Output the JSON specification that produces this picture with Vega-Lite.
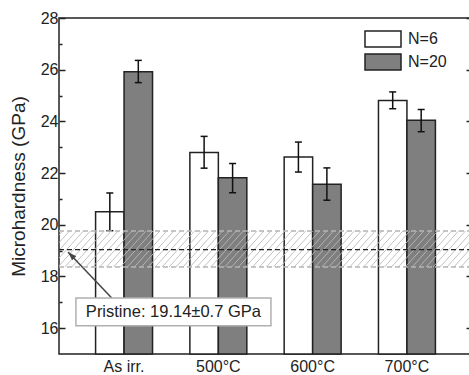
{
  "$schema": "https://vega.github.io/schema/vega-lite/v6.json",
  "width": 413,
  "height": 336,
  "autosize": {"type": "none"},
  "padding": {"left": 59, "top": 18, "right": 0, "bottom": 21},
  "config": {"font": "Liberation Sans", "view": {"stroke": "#222", "strokeWidth": 1.5}},
  "datasets": {
    "bars": [
      {"cond": "As irr.", "N": "N=6", "value": 20.5, "lo": 19.77, "hi": 21.23},
      {"cond": "As irr.", "N": "N=20", "value": 25.92, "lo": 25.5, "hi": 26.36},
      {"cond": "500°C", "N": "N=6", "value": 22.8, "lo": 22.19, "hi": 23.42},
      {"cond": "500°C", "N": "N=20", "value": 21.82, "lo": 21.24, "hi": 22.37},
      {"cond": "600°C", "N": "N=6", "value": 22.62, "lo": 22.04, "hi": 23.2},
      {"cond": "600°C", "N": "N=20", "value": 21.57, "lo": 20.95, "hi": 22.2},
      {"cond": "700°C", "N": "N=6", "value": 24.81, "lo": 24.49, "hi": 25.14},
      {"cond": "700°C", "N": "N=20", "value": 24.04, "lo": 23.6, "hi": 24.46}
    ],
    "pristine": [{"lo": 18.37, "mid": 19.04, "hi": 19.76, "label": "Pristine: 19.14±0.7 GPa"}]
  },
  "layer": [
    {
      "layer": [
        {
          "data": {"name": "bars"},
          "mark": {"type": "bar", "stroke": "#222", "strokeWidth": 1.5},
          "encoding": {
            "x": {"field": "cond", "type": "nominal", "sort": null, "scale": {"paddingInner": 0.396, "paddingOuter": 0.388},
              "axis": {"title": null, "labelAngle": 0, "labelFontSize": 16, "labelColor": "#222", "ticks": false, "domain": false, "labelPadding": 4}},
            "xOffset": {"field": "N", "type": "nominal", "sort": ["N=6", "N=20"], "scale": {"paddingInner": 0, "paddingOuter": 0}},
            "y": {"field": "value", "type": "quantitative", "scale": {"domain": [15, 28], "nice": false, "zero": false},
              "axis": {"orient": "left", "values": [16, 18, 20, 22, 24, 26, 28],
                "tickSize": -6, "tickColor": "#222", "tickWidth": 1.5, "domain": false, "grid": false,
                "labelFontSize": 16, "labelColor": "#222", "labelPadding": 7,
                "title": "Microhardness (GPa)", "titleFontSize": 19, "titleFontWeight": "normal", "titleColor": "#222", "titlePadding": 12}},
            "y2": {"datum": 15},
            "fill": {"field": "N", "type": "nominal", "sort": ["N=6", "N=20"],
              "scale": {"domain": ["N=6", "N=20"], "range": ["#ffffff", "#7f7f7f"]},
              "legend": {"orient": "none", "legendX": 314, "legendY": 11, "title": null,
                "symbolType": "M-2,-0.88H2V0.88H-2Z", "symbolSize": 324, "symbolStrokeColor": "#222", "symbolStrokeWidth": 1.5,
                "labelFontSize": 16, "labelColor": "#222", "labelOffset": 15, "rowPadding": 1, "padding": 0, "symbolOpacity": 1}}
          }
        },
        {
          "data": {"name": "bars"},
          "mark": {"type": "rule", "color": "#111", "strokeWidth": 1.5},
          "encoding": {
            "x": {"field": "cond", "type": "nominal", "sort": null},
            "xOffset": {"field": "N", "type": "nominal", "sort": ["N=6", "N=20"]},
            "y": {"field": "lo", "type": "quantitative"},
            "y2": {"field": "hi"}
          }
        },
        {
          "data": {"name": "bars"},
          "mark": {"type": "tick", "color": "#111", "thickness": 1.5, "size": 7, "opacity": 1},
          "encoding": {
            "x": {"field": "cond", "type": "nominal", "sort": null},
            "xOffset": {"field": "N", "type": "nominal", "sort": ["N=6", "N=20"]},
            "y": {"field": "lo", "type": "quantitative"}
          }
        },
        {
          "data": {"name": "bars"},
          "mark": {"type": "tick", "color": "#111", "thickness": 1.5, "size": 7, "opacity": 1},
          "encoding": {
            "x": {"field": "cond", "type": "nominal", "sort": null},
            "xOffset": {"field": "N", "type": "nominal", "sort": ["N=6", "N=20"]},
            "y": {"field": "hi", "type": "quantitative"}
          }
        },
        {
          "data": {"name": "pristine"},
          "mark": {"type": "rect", "fill": {"gradient": "linear", "x1": 0, "y1": 0, "x2": 1.0717, "y2": 0.0839, "stops": [
            {"offset": 0.0058, "color": "#b9b9b900"}, {"offset": 0.008, "color": "#b9b9b9e6"}, {"offset": 0.0102, "color": "#b9b9b900"},
            {"offset": 0.0214, "color": "#b9b9b900"}, {"offset": 0.0236, "color": "#b9b9b9e6"}, {"offset": 0.0258, "color": "#b9b9b900"},
            {"offset": 0.037, "color": "#b9b9b900"}, {"offset": 0.0392, "color": "#b9b9b9e6"}, {"offset": 0.0414, "color": "#b9b9b900"},
            {"offset": 0.0526, "color": "#b9b9b900"}, {"offset": 0.0548, "color": "#b9b9b9e6"}, {"offset": 0.057, "color": "#b9b9b900"},
            {"offset": 0.0682, "color": "#b9b9b900"}, {"offset": 0.0704, "color": "#b9b9b9e6"}, {"offset": 0.0726, "color": "#b9b9b900"},
            {"offset": 0.0838, "color": "#b9b9b900"}, {"offset": 0.086, "color": "#b9b9b9e6"}, {"offset": 0.0882, "color": "#b9b9b900"},
            {"offset": 0.0994, "color": "#b9b9b900"}, {"offset": 0.1016, "color": "#b9b9b9e6"}, {"offset": 0.1038, "color": "#b9b9b900"},
            {"offset": 0.115, "color": "#b9b9b900"}, {"offset": 0.1172, "color": "#b9b9b9e6"}, {"offset": 0.1194, "color": "#b9b9b900"},
            {"offset": 0.1306, "color": "#b9b9b900"}, {"offset": 0.1328, "color": "#b9b9b9e6"}, {"offset": 0.135, "color": "#b9b9b900"},
            {"offset": 0.1462, "color": "#b9b9b900"}, {"offset": 0.1484, "color": "#b9b9b9e6"}, {"offset": 0.1506, "color": "#b9b9b900"},
            {"offset": 0.1618, "color": "#b9b9b900"}, {"offset": 0.164, "color": "#b9b9b9e6"}, {"offset": 0.1662, "color": "#b9b9b900"},
            {"offset": 0.1774, "color": "#b9b9b900"}, {"offset": 0.1796, "color": "#b9b9b9e6"}, {"offset": 0.1818, "color": "#b9b9b900"},
            {"offset": 0.193, "color": "#b9b9b900"}, {"offset": 0.1952, "color": "#b9b9b9e6"}, {"offset": 0.1974, "color": "#b9b9b900"},
            {"offset": 0.2086, "color": "#b9b9b900"}, {"offset": 0.2108, "color": "#b9b9b9e6"}, {"offset": 0.213, "color": "#b9b9b900"},
            {"offset": 0.2242, "color": "#b9b9b900"}, {"offset": 0.2264, "color": "#b9b9b9e6"}, {"offset": 0.2286, "color": "#b9b9b900"},
            {"offset": 0.2398, "color": "#b9b9b900"}, {"offset": 0.242, "color": "#b9b9b9e6"}, {"offset": 0.2442, "color": "#b9b9b900"},
            {"offset": 0.2554, "color": "#b9b9b900"}, {"offset": 0.2576, "color": "#b9b9b9e6"}, {"offset": 0.2598, "color": "#b9b9b900"},
            {"offset": 0.271, "color": "#b9b9b900"}, {"offset": 0.2732, "color": "#b9b9b9e6"}, {"offset": 0.2754, "color": "#b9b9b900"},
            {"offset": 0.2866, "color": "#b9b9b900"}, {"offset": 0.2888, "color": "#b9b9b9e6"}, {"offset": 0.291, "color": "#b9b9b900"},
            {"offset": 0.3022, "color": "#b9b9b900"}, {"offset": 0.3044, "color": "#b9b9b9e6"}, {"offset": 0.3066, "color": "#b9b9b900"},
            {"offset": 0.3178, "color": "#b9b9b900"}, {"offset": 0.32, "color": "#b9b9b9e6"}, {"offset": 0.3222, "color": "#b9b9b900"},
            {"offset": 0.3334, "color": "#b9b9b900"}, {"offset": 0.3356, "color": "#b9b9b9e6"}, {"offset": 0.3378, "color": "#b9b9b900"},
            {"offset": 0.349, "color": "#b9b9b900"}, {"offset": 0.3512, "color": "#b9b9b9e6"}, {"offset": 0.3534, "color": "#b9b9b900"},
            {"offset": 0.3646, "color": "#b9b9b900"}, {"offset": 0.3668, "color": "#b9b9b9e6"}, {"offset": 0.369, "color": "#b9b9b900"},
            {"offset": 0.3802, "color": "#b9b9b900"}, {"offset": 0.3824, "color": "#b9b9b9e6"}, {"offset": 0.3846, "color": "#b9b9b900"},
            {"offset": 0.3958, "color": "#b9b9b900"}, {"offset": 0.398, "color": "#b9b9b9e6"}, {"offset": 0.4002, "color": "#b9b9b900"},
            {"offset": 0.4114, "color": "#b9b9b900"}, {"offset": 0.4136, "color": "#b9b9b9e6"}, {"offset": 0.4158, "color": "#b9b9b900"},
            {"offset": 0.427, "color": "#b9b9b900"}, {"offset": 0.4292, "color": "#b9b9b9e6"}, {"offset": 0.4314, "color": "#b9b9b900"},
            {"offset": 0.4426, "color": "#b9b9b900"}, {"offset": 0.4448, "color": "#b9b9b9e6"}, {"offset": 0.447, "color": "#b9b9b900"},
            {"offset": 0.4582, "color": "#b9b9b900"}, {"offset": 0.4604, "color": "#b9b9b9e6"}, {"offset": 0.4626, "color": "#b9b9b900"},
            {"offset": 0.4738, "color": "#b9b9b900"}, {"offset": 0.476, "color": "#b9b9b9e6"}, {"offset": 0.4782, "color": "#b9b9b900"},
            {"offset": 0.4894, "color": "#b9b9b900"}, {"offset": 0.4916, "color": "#b9b9b9e6"}, {"offset": 0.4938, "color": "#b9b9b900"},
            {"offset": 0.505, "color": "#b9b9b900"}, {"offset": 0.5072, "color": "#b9b9b9e6"}, {"offset": 0.5094, "color": "#b9b9b900"},
            {"offset": 0.5206, "color": "#b9b9b900"}, {"offset": 0.5228, "color": "#b9b9b9e6"}, {"offset": 0.525, "color": "#b9b9b900"},
            {"offset": 0.5362, "color": "#b9b9b900"}, {"offset": 0.5384, "color": "#b9b9b9e6"}, {"offset": 0.5406, "color": "#b9b9b900"},
            {"offset": 0.5518, "color": "#b9b9b900"}, {"offset": 0.554, "color": "#b9b9b9e6"}, {"offset": 0.5562, "color": "#b9b9b900"},
            {"offset": 0.5674, "color": "#b9b9b900"}, {"offset": 0.5696, "color": "#b9b9b9e6"}, {"offset": 0.5718, "color": "#b9b9b900"},
            {"offset": 0.583, "color": "#b9b9b900"}, {"offset": 0.5852, "color": "#b9b9b9e6"}, {"offset": 0.5874, "color": "#b9b9b900"},
            {"offset": 0.5986, "color": "#b9b9b900"}, {"offset": 0.6008, "color": "#b9b9b9e6"}, {"offset": 0.603, "color": "#b9b9b900"},
            {"offset": 0.6142, "color": "#b9b9b900"}, {"offset": 0.6164, "color": "#b9b9b9e6"}, {"offset": 0.6186, "color": "#b9b9b900"},
            {"offset": 0.6298, "color": "#b9b9b900"}, {"offset": 0.632, "color": "#b9b9b9e6"}, {"offset": 0.6342, "color": "#b9b9b900"},
            {"offset": 0.6454, "color": "#b9b9b900"}, {"offset": 0.6476, "color": "#b9b9b9e6"}, {"offset": 0.6498, "color": "#b9b9b900"},
            {"offset": 0.661, "color": "#b9b9b900"}, {"offset": 0.6632, "color": "#b9b9b9e6"}, {"offset": 0.6654, "color": "#b9b9b900"},
            {"offset": 0.6766, "color": "#b9b9b900"}, {"offset": 0.6788, "color": "#b9b9b9e6"}, {"offset": 0.681, "color": "#b9b9b900"},
            {"offset": 0.6922, "color": "#b9b9b900"}, {"offset": 0.6944, "color": "#b9b9b9e6"}, {"offset": 0.6966, "color": "#b9b9b900"},
            {"offset": 0.7078, "color": "#b9b9b900"}, {"offset": 0.71, "color": "#b9b9b9e6"}, {"offset": 0.7122, "color": "#b9b9b900"},
            {"offset": 0.7234, "color": "#b9b9b900"}, {"offset": 0.7256, "color": "#b9b9b9e6"}, {"offset": 0.7278, "color": "#b9b9b900"},
            {"offset": 0.739, "color": "#b9b9b900"}, {"offset": 0.7412, "color": "#b9b9b9e6"}, {"offset": 0.7434, "color": "#b9b9b900"},
            {"offset": 0.7546, "color": "#b9b9b900"}, {"offset": 0.7568, "color": "#b9b9b9e6"}, {"offset": 0.759, "color": "#b9b9b900"},
            {"offset": 0.7702, "color": "#b9b9b900"}, {"offset": 0.7724, "color": "#b9b9b9e6"}, {"offset": 0.7746, "color": "#b9b9b900"},
            {"offset": 0.7858, "color": "#b9b9b900"}, {"offset": 0.788, "color": "#b9b9b9e6"}, {"offset": 0.7902, "color": "#b9b9b900"},
            {"offset": 0.8014, "color": "#b9b9b900"}, {"offset": 0.8036, "color": "#b9b9b9e6"}, {"offset": 0.8058, "color": "#b9b9b900"},
            {"offset": 0.817, "color": "#b9b9b900"}, {"offset": 0.8192, "color": "#b9b9b9e6"}, {"offset": 0.8214, "color": "#b9b9b900"},
            {"offset": 0.8326, "color": "#b9b9b900"}, {"offset": 0.8348, "color": "#b9b9b9e6"}, {"offset": 0.837, "color": "#b9b9b900"},
            {"offset": 0.8482, "color": "#b9b9b900"}, {"offset": 0.8504, "color": "#b9b9b9e6"}, {"offset": 0.8526, "color": "#b9b9b900"},
            {"offset": 0.8638, "color": "#b9b9b900"}, {"offset": 0.866, "color": "#b9b9b9e6"}, {"offset": 0.8682, "color": "#b9b9b900"},
            {"offset": 0.8794, "color": "#b9b9b900"}, {"offset": 0.8816, "color": "#b9b9b9e6"}, {"offset": 0.8838, "color": "#b9b9b900"},
            {"offset": 0.895, "color": "#b9b9b900"}, {"offset": 0.8972, "color": "#b9b9b9e6"}, {"offset": 0.8994, "color": "#b9b9b900"},
            {"offset": 0.9106, "color": "#b9b9b900"}, {"offset": 0.9128, "color": "#b9b9b9e6"}, {"offset": 0.915, "color": "#b9b9b900"},
            {"offset": 0.9262, "color": "#b9b9b900"}, {"offset": 0.9284, "color": "#b9b9b9e6"}, {"offset": 0.9306, "color": "#b9b9b900"},
            {"offset": 0.9418, "color": "#b9b9b900"}, {"offset": 0.944, "color": "#b9b9b9e6"}, {"offset": 0.9462, "color": "#b9b9b900"},
            {"offset": 0.9574, "color": "#b9b9b900"}, {"offset": 0.9596, "color": "#b9b9b9e6"}, {"offset": 0.9618, "color": "#b9b9b900"},
            {"offset": 0.973, "color": "#b9b9b900"}, {"offset": 0.9752, "color": "#b9b9b9e6"}, {"offset": 0.9774, "color": "#b9b9b900"},
            {"offset": 0.9886, "color": "#b9b9b900"}, {"offset": 0.9908, "color": "#b9b9b9e6"}, {"offset": 0.993, "color": "#b9b9b900"}
          ]}},
          "encoding": {
            "y": {"field": "lo", "type": "quantitative"},
            "y2": {"field": "hi"}
          }
        },
        {
          "data": {"name": "pristine"},
          "mark": {"type": "rule", "color": "#b5b5b5", "strokeWidth": 1.5, "strokeDash": [5, 3]},
          "encoding": {"y": {"field": "hi", "type": "quantitative"}}
        }
      ]
    },
    {
      "data": {"name": "pristine"},
      "layer": [
        {
          "mark": {"type": "rule", "color": "#444", "strokeWidth": 1.5},
          "encoding": {
            "x": {"datum": 0.511, "type": "quantitative", "scale": {"domain": [0, 4], "nice": false, "zero": false}, "axis": null},
            "x2": {"datum": 0.087},
            "y": {"datum": 17.17, "type": "quantitative",
              "axis": {"orient": "right", "values": [16, 18, 20, 22, 24, 26, 28], "labels": false,
                "tickSize": -6, "tickColor": "#222", "tickWidth": 1.5, "domain": false, "grid": false, "title": null}},
            "y2": {"datum": 18.95}
          }
        },
        {
          "mark": {"type": "point", "shape": "M0,0L-0.45,1.4L0.45,1.4Z", "size": 164, "filled": true, "color": "#444", "opacity": 1, "angle": 316},
          "encoding": {
            "x": {"datum": 0.087, "type": "quantitative"},
            "y": {"datum": 18.95, "type": "quantitative"}
          }
        },
        {
          "mark": {"type": "rect", "fill": "#ffffff", "stroke": "#b0b0b0", "strokeWidth": 1.5},
          "encoding": {
            "x": {"datum": 0.164, "type": "quantitative"},
            "x2": {"datum": 2.053},
            "y": {"datum": 17.17, "type": "quantitative"},
            "y2": {"datum": 16.09}
          }
        },
        {
          "mark": {"type": "text", "fontSize": 16.5, "color": "#222", "align": "center", "baseline": "middle"},
          "encoding": {
            "x": {"datum": 1.108, "type": "quantitative"},
            "y": {"datum": 16.64, "type": "quantitative"},
            "text": {"field": "label"}
          }
        }
      ]
    },
    {
      "data": {"name": "pristine"},
      "mark": {"type": "rule", "color": "#222", "strokeWidth": 1.3, "strokeDash": [5, 3]},
      "encoding": {"y": {"field": "mid", "type": "quantitative",
        "axis": {"orient": "left", "values": [17, 19, 21, 23, 25, 27], "labels": false, "tickSize": -3, "tickColor": "#222", "tickWidth": 1.5, "domain": false, "grid": false, "title": null}}}
    },
    {
      "data": {"name": "pristine"},
      "mark": {"type": "rule", "color": "#b5b5b5", "strokeWidth": 1.5, "strokeDash": [5, 3]},
      "encoding": {"y": {"field": "lo", "type": "quantitative",
        "axis": {"orient": "right", "values": [17, 19, 21, 23, 25, 27], "labels": false, "tickSize": -3, "tickColor": "#222", "tickWidth": 1.5, "domain": false, "grid": false, "title": null}}}
    }
  ],
  "resolve": {"scale": {"x": "independent"}, "axis": {"x": "independent", "y": "independent"}}
}
